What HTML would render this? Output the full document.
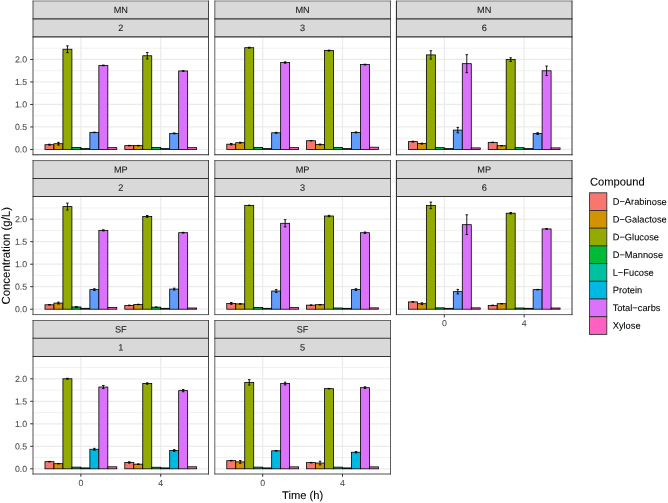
<!DOCTYPE html>
<html><head><meta charset="utf-8"><style>
html,body{margin:0;padding:0;background:#fff;}
body{width:668px;height:503px;overflow:hidden;}
svg{display:block;font-family:'Liberation Sans',sans-serif;}
text{-webkit-font-smoothing:antialiased;text-rendering:geometricPrecision;}
svg text{filter:opacity(1);stroke:currentColor;stroke-width:0.08px;}
</style></head><body>
<svg width="668" height="503" viewBox="0 0 668 503">
<rect width="668" height="503" fill="#fff"/>
<rect x="33" y="36.86" width="175.6" height="117.86" fill="#fff"/>
<line x1="33" x2="208.6" y1="138.2" y2="138.2" stroke="#EBEBEB" stroke-width="0.7"/>
<line x1="33" x2="208.6" y1="115.7" y2="115.7" stroke="#EBEBEB" stroke-width="0.7"/>
<line x1="33" x2="208.6" y1="93.2" y2="93.2" stroke="#EBEBEB" stroke-width="0.7"/>
<line x1="33" x2="208.6" y1="70.7" y2="70.7" stroke="#EBEBEB" stroke-width="0.7"/>
<line x1="33" x2="208.6" y1="48.2" y2="48.2" stroke="#EBEBEB" stroke-width="0.7"/>
<line x1="33" x2="208.6" y1="149.45" y2="149.45" stroke="#EBEBEB" stroke-width="1.2"/>
<line x1="33" x2="208.6" y1="126.95" y2="126.95" stroke="#EBEBEB" stroke-width="1.2"/>
<line x1="33" x2="208.6" y1="104.45" y2="104.45" stroke="#EBEBEB" stroke-width="1.2"/>
<line x1="33" x2="208.6" y1="81.95" y2="81.95" stroke="#EBEBEB" stroke-width="1.2"/>
<line x1="33" x2="208.6" y1="59.45" y2="59.45" stroke="#EBEBEB" stroke-width="1.2"/>
<line x1="80.89" x2="80.89" y1="36.86" y2="154.72" stroke="#EBEBEB" stroke-width="1.2"/>
<line x1="160.71" x2="160.71" y1="36.86" y2="154.72" stroke="#EBEBEB" stroke-width="1.2"/>
<rect x="44.97" y="144.68" width="8.98" height="4.77" fill="#F8766D" stroke="#000" stroke-width="0.8"/>
<rect x="53.95" y="143.69" width="8.98" height="5.76" fill="#D39200" stroke="#000" stroke-width="0.8"/>
<rect x="62.93" y="49.23" width="8.98" height="100.21" fill="#93AA00" stroke="#000" stroke-width="0.8"/>
<rect x="71.91" y="147.38" width="8.98" height="2.07" fill="#00BA38" stroke="#000" stroke-width="0.8"/>
<rect x="80.89" y="148.55" width="8.98" height="0.9" fill="#00C19F" stroke="#000" stroke-width="0.8"/>
<rect x="89.87" y="132.39" width="8.98" height="17.06" fill="#619CFF" stroke="#000" stroke-width="0.8"/>
<rect x="98.85" y="65.43" width="8.98" height="84.02" fill="#DB72FB" stroke="#000" stroke-width="0.8"/>
<rect x="107.83" y="147.65" width="8.98" height="1.8" fill="#FF61C3" stroke="#000" stroke-width="0.8"/>
<path d="M48.21 144.23H50.71M49.46 144.23V145.13M48.21 145.13H50.71" stroke="#000" stroke-width="0.9" fill="none"/>
<path d="M57.19 142.34H59.69M58.44 142.34V145.04M57.19 145.04H59.69" stroke="#000" stroke-width="0.9" fill="none"/>
<path d="M66.17 45.86H68.67M67.42 45.86V52.61M66.17 52.61H68.67" stroke="#000" stroke-width="0.9" fill="none"/>
<path d="M93.11 132.17H95.61M94.36 132.17V132.62M93.11 132.62H95.61" stroke="#000" stroke-width="0.9" fill="none"/>
<path d="M102.09 65.07H104.59M103.34 65.07V65.79M102.09 65.79H104.59" stroke="#000" stroke-width="0.9" fill="none"/>
<rect x="124.79" y="145.62" width="8.98" height="3.82" fill="#F8766D" stroke="#000" stroke-width="0.8"/>
<rect x="133.77" y="145.62" width="8.98" height="3.82" fill="#D39200" stroke="#000" stroke-width="0.8"/>
<rect x="142.75" y="55.76" width="8.98" height="93.69" fill="#93AA00" stroke="#000" stroke-width="0.8"/>
<rect x="151.73" y="147.38" width="8.98" height="2.07" fill="#00BA38" stroke="#000" stroke-width="0.8"/>
<rect x="160.71" y="148.55" width="8.98" height="0.9" fill="#00C19F" stroke="#000" stroke-width="0.8"/>
<rect x="169.69" y="133.38" width="8.98" height="16.06" fill="#619CFF" stroke="#000" stroke-width="0.8"/>
<rect x="178.67" y="70.97" width="8.98" height="78.48" fill="#DB72FB" stroke="#000" stroke-width="0.8"/>
<rect x="187.65" y="147.65" width="8.98" height="1.8" fill="#FF61C3" stroke="#000" stroke-width="0.8"/>
<path d="M128.03 145.4H130.53M129.28 145.4V145.85M128.03 145.85H130.53" stroke="#000" stroke-width="0.9" fill="none"/>
<path d="M137.01 145.4H139.51M138.26 145.4V145.85M137.01 145.85H139.51" stroke="#000" stroke-width="0.9" fill="none"/>
<path d="M145.99 52.52H148.49M147.24 52.52V59M145.99 59H148.49" stroke="#000" stroke-width="0.9" fill="none"/>
<path d="M172.93 132.94H175.43M174.18 132.94V133.83M172.93 133.83H175.43" stroke="#000" stroke-width="0.9" fill="none"/>
<path d="M181.91 70.74H184.41M183.16 70.74V71.19M181.91 71.19H184.41" stroke="#000" stroke-width="0.9" fill="none"/>
<rect x="33" y="0.97" width="175.6" height="17.85" fill="#D9D9D9"/>
<text transform="translate(120.8 13.09) rotate(0.05)" text-anchor="middle" font-size="9.2" fill="#1A1A1A" color="#1A1A1A">MN</text>
<rect x="33" y="18.82" width="175.6" height="18.04" fill="#D9D9D9"/>
<text transform="translate(120.8 31.04) rotate(0.05)" text-anchor="middle" font-size="9.2" fill="#1A1A1A" color="#1A1A1A">2</text>
<path d="M32.58 0.97H208.95" stroke="#333" stroke-width="0.6" fill="none"/>
<path d="M32.58 18.82H208.95" stroke="#333" stroke-width="1.19" fill="none"/>
<path d="M32.58 36.86H208.95" stroke="#333" stroke-width="1.21" fill="none"/>
<path d="M32.58 154.72H208.95" stroke="#333" stroke-width="1.06" fill="none"/>
<path d="M33 0.67V155.25" stroke="#333" stroke-width="0.84" fill="none"/>
<path d="M208.5 0.67V155.25" stroke="#333" stroke-width="0.9" fill="none"/>
<rect x="214.8" y="36.86" width="175.6" height="117.86" fill="#fff"/>
<line x1="214.8" x2="390.4" y1="138.2" y2="138.2" stroke="#EBEBEB" stroke-width="0.7"/>
<line x1="214.8" x2="390.4" y1="115.7" y2="115.7" stroke="#EBEBEB" stroke-width="0.7"/>
<line x1="214.8" x2="390.4" y1="93.2" y2="93.2" stroke="#EBEBEB" stroke-width="0.7"/>
<line x1="214.8" x2="390.4" y1="70.7" y2="70.7" stroke="#EBEBEB" stroke-width="0.7"/>
<line x1="214.8" x2="390.4" y1="48.2" y2="48.2" stroke="#EBEBEB" stroke-width="0.7"/>
<line x1="214.8" x2="390.4" y1="149.45" y2="149.45" stroke="#EBEBEB" stroke-width="1.2"/>
<line x1="214.8" x2="390.4" y1="126.95" y2="126.95" stroke="#EBEBEB" stroke-width="1.2"/>
<line x1="214.8" x2="390.4" y1="104.45" y2="104.45" stroke="#EBEBEB" stroke-width="1.2"/>
<line x1="214.8" x2="390.4" y1="81.95" y2="81.95" stroke="#EBEBEB" stroke-width="1.2"/>
<line x1="214.8" x2="390.4" y1="59.45" y2="59.45" stroke="#EBEBEB" stroke-width="1.2"/>
<line x1="262.69" x2="262.69" y1="36.86" y2="154.72" stroke="#EBEBEB" stroke-width="1.2"/>
<line x1="342.51" x2="342.51" y1="36.86" y2="154.72" stroke="#EBEBEB" stroke-width="1.2"/>
<rect x="226.77" y="144.19" width="8.98" height="5.26" fill="#F8766D" stroke="#000" stroke-width="0.8"/>
<rect x="235.75" y="142.7" width="8.98" height="6.75" fill="#D39200" stroke="#000" stroke-width="0.8"/>
<rect x="244.73" y="47.7" width="8.98" height="101.75" fill="#93AA00" stroke="#000" stroke-width="0.8"/>
<rect x="253.71" y="147.38" width="8.98" height="2.07" fill="#00BA38" stroke="#000" stroke-width="0.8"/>
<rect x="262.69" y="148.55" width="8.98" height="0.9" fill="#00C19F" stroke="#000" stroke-width="0.8"/>
<rect x="271.67" y="132.8" width="8.98" height="16.65" fill="#619CFF" stroke="#000" stroke-width="0.8"/>
<rect x="280.65" y="62.51" width="8.98" height="86.94" fill="#DB72FB" stroke="#000" stroke-width="0.8"/>
<rect x="289.63" y="147.65" width="8.98" height="1.8" fill="#FF61C3" stroke="#000" stroke-width="0.8"/>
<path d="M230.01 143.51H232.51M231.26 143.51V144.86M230.01 144.86H232.51" stroke="#000" stroke-width="0.9" fill="none"/>
<path d="M238.99 142.25H241.49M240.24 142.25V143.15M238.99 143.15H241.49" stroke="#000" stroke-width="0.9" fill="none"/>
<path d="M247.97 47.25H250.47M249.22 47.25V48.15M247.97 48.15H250.47" stroke="#000" stroke-width="0.9" fill="none"/>
<path d="M274.91 132.35H277.41M276.16 132.35V133.25M274.91 133.25H277.41" stroke="#000" stroke-width="0.9" fill="none"/>
<path d="M283.89 61.83H286.39M285.14 61.83V63.18M283.89 63.18H286.39" stroke="#000" stroke-width="0.9" fill="none"/>
<rect x="306.59" y="140.72" width="8.98" height="8.73" fill="#F8766D" stroke="#000" stroke-width="0.8"/>
<rect x="315.57" y="144.5" width="8.98" height="4.95" fill="#D39200" stroke="#000" stroke-width="0.8"/>
<rect x="324.55" y="50.58" width="8.98" height="98.87" fill="#93AA00" stroke="#000" stroke-width="0.8"/>
<rect x="333.53" y="147.38" width="8.98" height="2.07" fill="#00BA38" stroke="#000" stroke-width="0.8"/>
<rect x="342.51" y="148.55" width="8.98" height="0.9" fill="#00C19F" stroke="#000" stroke-width="0.8"/>
<rect x="351.49" y="132.39" width="8.98" height="17.06" fill="#619CFF" stroke="#000" stroke-width="0.8"/>
<rect x="360.47" y="64.58" width="8.98" height="84.87" fill="#DB72FB" stroke="#000" stroke-width="0.8"/>
<rect x="369.45" y="147.2" width="8.98" height="2.25" fill="#FF61C3" stroke="#000" stroke-width="0.8"/>
<path d="M309.83 140.49H312.33M311.08 140.49V140.94M309.83 140.94H312.33" stroke="#000" stroke-width="0.9" fill="none"/>
<path d="M318.81 144.05H321.31M320.06 144.05V144.95M318.81 144.95H321.31" stroke="#000" stroke-width="0.9" fill="none"/>
<path d="M327.79 50.13H330.29M329.04 50.13V51.03M327.79 51.03H330.29" stroke="#000" stroke-width="0.9" fill="none"/>
<path d="M354.73 131.94H357.23M355.98 131.94V132.84M354.73 132.84H357.23" stroke="#000" stroke-width="0.9" fill="none"/>
<path d="M363.71 64.22H366.21M364.96 64.22V64.94M363.71 64.94H366.21" stroke="#000" stroke-width="0.9" fill="none"/>
<rect x="214.8" y="0.97" width="175.6" height="17.85" fill="#D9D9D9"/>
<text transform="translate(302.6 13.09) rotate(0.05)" text-anchor="middle" font-size="9.2" fill="#1A1A1A" color="#1A1A1A">MN</text>
<rect x="214.8" y="18.82" width="175.6" height="18.04" fill="#D9D9D9"/>
<text transform="translate(302.6 31.04) rotate(0.05)" text-anchor="middle" font-size="9.2" fill="#1A1A1A" color="#1A1A1A">3</text>
<path d="M214.41 0.97H390.9" stroke="#333" stroke-width="0.6" fill="none"/>
<path d="M214.41 18.82H390.9" stroke="#333" stroke-width="1.19" fill="none"/>
<path d="M214.41 36.86H390.9" stroke="#333" stroke-width="1.21" fill="none"/>
<path d="M214.41 154.72H390.9" stroke="#333" stroke-width="1.06" fill="none"/>
<path d="M214.8 0.67V155.25" stroke="#333" stroke-width="0.78" fill="none"/>
<path d="M390.5 0.67V155.25" stroke="#333" stroke-width="0.8" fill="none"/>
<rect x="396.45" y="36.86" width="175.6" height="117.86" fill="#fff"/>
<line x1="396.45" x2="572.05" y1="138.2" y2="138.2" stroke="#EBEBEB" stroke-width="0.7"/>
<line x1="396.45" x2="572.05" y1="115.7" y2="115.7" stroke="#EBEBEB" stroke-width="0.7"/>
<line x1="396.45" x2="572.05" y1="93.2" y2="93.2" stroke="#EBEBEB" stroke-width="0.7"/>
<line x1="396.45" x2="572.05" y1="70.7" y2="70.7" stroke="#EBEBEB" stroke-width="0.7"/>
<line x1="396.45" x2="572.05" y1="48.2" y2="48.2" stroke="#EBEBEB" stroke-width="0.7"/>
<line x1="396.45" x2="572.05" y1="149.45" y2="149.45" stroke="#EBEBEB" stroke-width="1.2"/>
<line x1="396.45" x2="572.05" y1="126.95" y2="126.95" stroke="#EBEBEB" stroke-width="1.2"/>
<line x1="396.45" x2="572.05" y1="104.45" y2="104.45" stroke="#EBEBEB" stroke-width="1.2"/>
<line x1="396.45" x2="572.05" y1="81.95" y2="81.95" stroke="#EBEBEB" stroke-width="1.2"/>
<line x1="396.45" x2="572.05" y1="59.45" y2="59.45" stroke="#EBEBEB" stroke-width="1.2"/>
<line x1="444.34" x2="444.34" y1="36.86" y2="154.72" stroke="#EBEBEB" stroke-width="1.2"/>
<line x1="524.16" x2="524.16" y1="36.86" y2="154.72" stroke="#EBEBEB" stroke-width="1.2"/>
<rect x="408.42" y="141.62" width="8.98" height="7.83" fill="#F8766D" stroke="#000" stroke-width="0.8"/>
<rect x="417.4" y="143.6" width="8.98" height="5.85" fill="#D39200" stroke="#000" stroke-width="0.8"/>
<rect x="426.38" y="54.9" width="8.98" height="94.55" fill="#93AA00" stroke="#000" stroke-width="0.8"/>
<rect x="435.36" y="147.65" width="8.98" height="1.8" fill="#00BA38" stroke="#000" stroke-width="0.8"/>
<rect x="444.34" y="148.55" width="8.98" height="0.9" fill="#00C19F" stroke="#000" stroke-width="0.8"/>
<rect x="453.32" y="130.1" width="8.98" height="19.35" fill="#619CFF" stroke="#000" stroke-width="0.8"/>
<rect x="462.3" y="63.68" width="8.98" height="85.77" fill="#DB72FB" stroke="#000" stroke-width="0.8"/>
<rect x="471.28" y="147.88" width="8.98" height="1.57" fill="#FF61C3" stroke="#000" stroke-width="0.8"/>
<path d="M411.66 141.17H414.16M412.91 141.17V142.07M411.66 142.07H414.16" stroke="#000" stroke-width="0.9" fill="none"/>
<path d="M420.64 143.15H423.14M421.89 143.15V144.05M420.64 144.05H423.14" stroke="#000" stroke-width="0.9" fill="none"/>
<path d="M429.62 50.72H432.12M430.87 50.72V59.09M429.62 59.09H432.12" stroke="#000" stroke-width="0.9" fill="none"/>
<path d="M456.56 127.4H459.06M457.81 127.4V132.8M456.56 132.8H459.06" stroke="#000" stroke-width="0.9" fill="none"/>
<path d="M465.54 54.68H468.04M466.79 54.68V72.68M465.54 72.68H468.04" stroke="#000" stroke-width="0.9" fill="none"/>
<rect x="488.24" y="142.38" width="8.98" height="7.06" fill="#F8766D" stroke="#000" stroke-width="0.8"/>
<rect x="497.22" y="145.71" width="8.98" height="3.74" fill="#D39200" stroke="#000" stroke-width="0.8"/>
<rect x="506.2" y="59.58" width="8.98" height="89.87" fill="#93AA00" stroke="#000" stroke-width="0.8"/>
<rect x="515.18" y="147.65" width="8.98" height="1.8" fill="#00BA38" stroke="#000" stroke-width="0.8"/>
<rect x="524.16" y="148.55" width="8.98" height="0.9" fill="#00C19F" stroke="#000" stroke-width="0.8"/>
<rect x="533.14" y="133.61" width="8.98" height="15.84" fill="#619CFF" stroke="#000" stroke-width="0.8"/>
<rect x="542.12" y="70.79" width="8.98" height="78.66" fill="#DB72FB" stroke="#000" stroke-width="0.8"/>
<rect x="551.1" y="147.88" width="8.98" height="1.57" fill="#FF61C3" stroke="#000" stroke-width="0.8"/>
<path d="M491.48 142.16H493.98M492.73 142.16V142.61M491.48 142.61H493.98" stroke="#000" stroke-width="0.9" fill="none"/>
<path d="M500.46 145.49H502.96M501.71 145.49V145.94M500.46 145.94H502.96" stroke="#000" stroke-width="0.9" fill="none"/>
<path d="M509.44 57.78H511.94M510.69 57.78V61.38M509.44 61.38H511.94" stroke="#000" stroke-width="0.9" fill="none"/>
<path d="M536.38 132.71H538.88M537.63 132.71V134.51M536.38 134.51H538.88" stroke="#000" stroke-width="0.9" fill="none"/>
<path d="M545.36 66.02H547.86M546.61 66.02V75.56M545.36 75.56H547.86" stroke="#000" stroke-width="0.9" fill="none"/>
<rect x="396.45" y="0.97" width="175.6" height="17.85" fill="#D9D9D9"/>
<text transform="translate(484.25 13.09) rotate(0.05)" text-anchor="middle" font-size="9.2" fill="#1A1A1A" color="#1A1A1A">MN</text>
<rect x="396.45" y="18.82" width="175.6" height="18.04" fill="#D9D9D9"/>
<text transform="translate(484.25 31.04) rotate(0.05)" text-anchor="middle" font-size="9.2" fill="#1A1A1A" color="#1A1A1A">6</text>
<path d="M395.9 0.97H572.5" stroke="#333" stroke-width="0.6" fill="none"/>
<path d="M395.9 18.82H572.5" stroke="#333" stroke-width="1.19" fill="none"/>
<path d="M395.9 36.86H572.5" stroke="#333" stroke-width="1.21" fill="none"/>
<path d="M395.9 154.72H572.5" stroke="#333" stroke-width="1.06" fill="none"/>
<path d="M396.45 0.67V155.25" stroke="#333" stroke-width="1.1" fill="none"/>
<path d="M572 0.67V155.25" stroke="#333" stroke-width="1.0" fill="none"/>
<rect x="33" y="196.6" width="175.6" height="118" fill="#fff"/>
<line x1="33" x2="208.6" y1="297.95" y2="297.95" stroke="#EBEBEB" stroke-width="0.7"/>
<line x1="33" x2="208.6" y1="275.45" y2="275.45" stroke="#EBEBEB" stroke-width="0.7"/>
<line x1="33" x2="208.6" y1="252.95" y2="252.95" stroke="#EBEBEB" stroke-width="0.7"/>
<line x1="33" x2="208.6" y1="230.45" y2="230.45" stroke="#EBEBEB" stroke-width="0.7"/>
<line x1="33" x2="208.6" y1="207.95" y2="207.95" stroke="#EBEBEB" stroke-width="0.7"/>
<line x1="33" x2="208.6" y1="309.2" y2="309.2" stroke="#EBEBEB" stroke-width="1.2"/>
<line x1="33" x2="208.6" y1="286.7" y2="286.7" stroke="#EBEBEB" stroke-width="1.2"/>
<line x1="33" x2="208.6" y1="264.2" y2="264.2" stroke="#EBEBEB" stroke-width="1.2"/>
<line x1="33" x2="208.6" y1="241.7" y2="241.7" stroke="#EBEBEB" stroke-width="1.2"/>
<line x1="33" x2="208.6" y1="219.2" y2="219.2" stroke="#EBEBEB" stroke-width="1.2"/>
<line x1="80.89" x2="80.89" y1="196.6" y2="314.6" stroke="#EBEBEB" stroke-width="1.2"/>
<line x1="160.71" x2="160.71" y1="196.6" y2="314.6" stroke="#EBEBEB" stroke-width="1.2"/>
<rect x="44.97" y="304.79" width="8.98" height="4.41" fill="#F8766D" stroke="#000" stroke-width="0.8"/>
<rect x="53.95" y="303.08" width="8.98" height="6.12" fill="#D39200" stroke="#000" stroke-width="0.8"/>
<rect x="62.93" y="206.6" width="8.98" height="102.6" fill="#93AA00" stroke="#000" stroke-width="0.8"/>
<rect x="71.91" y="306.95" width="8.98" height="2.25" fill="#00BA38" stroke="#000" stroke-width="0.8"/>
<rect x="80.89" y="308.3" width="8.98" height="0.9" fill="#00C19F" stroke="#000" stroke-width="0.8"/>
<rect x="89.87" y="289.62" width="8.98" height="19.57" fill="#619CFF" stroke="#000" stroke-width="0.8"/>
<rect x="98.85" y="230.36" width="8.98" height="78.84" fill="#DB72FB" stroke="#000" stroke-width="0.8"/>
<rect x="107.83" y="307.4" width="8.98" height="1.8" fill="#FF61C3" stroke="#000" stroke-width="0.8"/>
<path d="M48.21 304.56H50.71M49.46 304.56V305.01M48.21 305.01H50.71" stroke="#000" stroke-width="0.9" fill="none"/>
<path d="M57.19 302.18H59.69M58.44 302.18V303.98M57.19 303.98H59.69" stroke="#000" stroke-width="0.9" fill="none"/>
<path d="M66.17 203.13H68.67M67.42 203.13V210.06M66.17 210.06H68.67" stroke="#000" stroke-width="0.9" fill="none"/>
<path d="M75.15 306.5H77.65M76.4 306.5V307.4M75.15 307.4H77.65" stroke="#000" stroke-width="0.9" fill="none"/>
<path d="M93.11 288.72H95.61M94.36 288.72V290.52M93.11 290.52H95.61" stroke="#000" stroke-width="0.9" fill="none"/>
<path d="M102.09 229.82H104.59M103.34 229.82V230.9M102.09 230.9H104.59" stroke="#000" stroke-width="0.9" fill="none"/>
<rect x="124.79" y="305.38" width="8.98" height="3.82" fill="#F8766D" stroke="#000" stroke-width="0.8"/>
<rect x="133.77" y="304.47" width="8.98" height="4.73" fill="#D39200" stroke="#000" stroke-width="0.8"/>
<rect x="142.75" y="216.41" width="8.98" height="92.79" fill="#93AA00" stroke="#000" stroke-width="0.8"/>
<rect x="151.73" y="307.18" width="8.98" height="2.02" fill="#00BA38" stroke="#000" stroke-width="0.8"/>
<rect x="160.71" y="308.3" width="8.98" height="0.9" fill="#00C19F" stroke="#000" stroke-width="0.8"/>
<rect x="169.69" y="289.08" width="8.98" height="20.12" fill="#619CFF" stroke="#000" stroke-width="0.8"/>
<rect x="178.67" y="232.7" width="8.98" height="76.5" fill="#DB72FB" stroke="#000" stroke-width="0.8"/>
<rect x="187.65" y="307.99" width="8.98" height="1.21" fill="#FF61C3" stroke="#000" stroke-width="0.8"/>
<path d="M128.03 305.15H130.53M129.28 305.15V305.6M128.03 305.6H130.53" stroke="#000" stroke-width="0.9" fill="none"/>
<path d="M137.01 304.25H139.51M138.26 304.25V304.7M137.01 304.7H139.51" stroke="#000" stroke-width="0.9" fill="none"/>
<path d="M145.99 215.51H148.49M147.24 215.51V217.31M145.99 217.31H148.49" stroke="#000" stroke-width="0.9" fill="none"/>
<path d="M154.97 306.95H157.47M156.22 306.95V307.4M154.97 307.4H157.47" stroke="#000" stroke-width="0.9" fill="none"/>
<path d="M172.93 288.19H175.43M174.18 288.19V289.99M172.93 289.99H175.43" stroke="#000" stroke-width="0.9" fill="none"/>
<path d="M181.91 232.34H184.41M183.16 232.34V233.06M181.91 233.06H184.41" stroke="#000" stroke-width="0.9" fill="none"/>
<rect x="33" y="160.57" width="175.6" height="17.93" fill="#D9D9D9"/>
<text transform="translate(120.8 172.73) rotate(0.05)" text-anchor="middle" font-size="9.2" fill="#1A1A1A" color="#1A1A1A">MP</text>
<rect x="33" y="178.5" width="175.6" height="18.1" fill="#D9D9D9"/>
<text transform="translate(120.8 190.75) rotate(0.05)" text-anchor="middle" font-size="9.2" fill="#1A1A1A" color="#1A1A1A">2</text>
<path d="M32.58 160.57H208.95" stroke="#333" stroke-width="0.72" fill="none"/>
<path d="M32.58 178.5H208.95" stroke="#333" stroke-width="1.0" fill="none"/>
<path d="M32.58 196.6H208.95" stroke="#333" stroke-width="1.02" fill="none"/>
<path d="M32.58 314.6H208.95" stroke="#333" stroke-width="0.77" fill="none"/>
<path d="M33 160.21V314.99" stroke="#333" stroke-width="0.84" fill="none"/>
<path d="M208.5 160.21V314.99" stroke="#333" stroke-width="0.9" fill="none"/>
<rect x="214.8" y="196.6" width="175.6" height="118" fill="#fff"/>
<line x1="214.8" x2="390.4" y1="297.95" y2="297.95" stroke="#EBEBEB" stroke-width="0.7"/>
<line x1="214.8" x2="390.4" y1="275.45" y2="275.45" stroke="#EBEBEB" stroke-width="0.7"/>
<line x1="214.8" x2="390.4" y1="252.95" y2="252.95" stroke="#EBEBEB" stroke-width="0.7"/>
<line x1="214.8" x2="390.4" y1="230.45" y2="230.45" stroke="#EBEBEB" stroke-width="0.7"/>
<line x1="214.8" x2="390.4" y1="207.95" y2="207.95" stroke="#EBEBEB" stroke-width="0.7"/>
<line x1="214.8" x2="390.4" y1="309.2" y2="309.2" stroke="#EBEBEB" stroke-width="1.2"/>
<line x1="214.8" x2="390.4" y1="286.7" y2="286.7" stroke="#EBEBEB" stroke-width="1.2"/>
<line x1="214.8" x2="390.4" y1="264.2" y2="264.2" stroke="#EBEBEB" stroke-width="1.2"/>
<line x1="214.8" x2="390.4" y1="241.7" y2="241.7" stroke="#EBEBEB" stroke-width="1.2"/>
<line x1="214.8" x2="390.4" y1="219.2" y2="219.2" stroke="#EBEBEB" stroke-width="1.2"/>
<line x1="262.69" x2="262.69" y1="196.6" y2="314.6" stroke="#EBEBEB" stroke-width="1.2"/>
<line x1="342.51" x2="342.51" y1="196.6" y2="314.6" stroke="#EBEBEB" stroke-width="1.2"/>
<rect x="226.77" y="303.39" width="8.98" height="5.81" fill="#F8766D" stroke="#000" stroke-width="0.8"/>
<rect x="235.75" y="303.89" width="8.98" height="5.31" fill="#D39200" stroke="#000" stroke-width="0.8"/>
<rect x="244.73" y="205.38" width="8.98" height="103.81" fill="#93AA00" stroke="#000" stroke-width="0.8"/>
<rect x="253.71" y="307.4" width="8.98" height="1.8" fill="#00BA38" stroke="#000" stroke-width="0.8"/>
<rect x="262.69" y="308.3" width="8.98" height="0.9" fill="#00C19F" stroke="#000" stroke-width="0.8"/>
<rect x="271.67" y="291.02" width="8.98" height="18.18" fill="#619CFF" stroke="#000" stroke-width="0.8"/>
<rect x="280.65" y="223.29" width="8.98" height="85.91" fill="#DB72FB" stroke="#000" stroke-width="0.8"/>
<rect x="289.63" y="307.62" width="8.98" height="1.57" fill="#FF61C3" stroke="#000" stroke-width="0.8"/>
<path d="M230.01 302.5H232.51M231.26 302.5V304.3M230.01 304.3H232.51" stroke="#000" stroke-width="0.9" fill="none"/>
<path d="M238.99 303.66H241.49M240.24 303.66V304.12M238.99 304.12H241.49" stroke="#000" stroke-width="0.9" fill="none"/>
<path d="M247.97 205.16H250.47M249.22 205.16V205.61M247.97 205.61H250.47" stroke="#000" stroke-width="0.9" fill="none"/>
<path d="M274.91 289.67H277.41M276.16 289.67V292.37M274.91 292.37H277.41" stroke="#000" stroke-width="0.9" fill="none"/>
<path d="M283.89 219.69H286.39M285.14 219.69V226.89M283.89 226.89H286.39" stroke="#000" stroke-width="0.9" fill="none"/>
<rect x="306.59" y="305.15" width="8.98" height="4.05" fill="#F8766D" stroke="#000" stroke-width="0.8"/>
<rect x="315.57" y="304.7" width="8.98" height="4.5" fill="#D39200" stroke="#000" stroke-width="0.8"/>
<rect x="324.55" y="216" width="8.98" height="93.19" fill="#93AA00" stroke="#000" stroke-width="0.8"/>
<rect x="333.53" y="307.99" width="8.98" height="1.21" fill="#00BA38" stroke="#000" stroke-width="0.8"/>
<rect x="342.51" y="308.3" width="8.98" height="0.9" fill="#00C19F" stroke="#000" stroke-width="0.8"/>
<rect x="351.49" y="289.62" width="8.98" height="19.57" fill="#619CFF" stroke="#000" stroke-width="0.8"/>
<rect x="360.47" y="232.7" width="8.98" height="76.5" fill="#DB72FB" stroke="#000" stroke-width="0.8"/>
<rect x="369.45" y="307.85" width="8.98" height="1.35" fill="#FF61C3" stroke="#000" stroke-width="0.8"/>
<path d="M309.83 304.93H312.33M311.08 304.93V305.38M309.83 305.38H312.33" stroke="#000" stroke-width="0.9" fill="none"/>
<path d="M318.81 304.47H321.31M320.06 304.47V304.93M318.81 304.93H321.31" stroke="#000" stroke-width="0.9" fill="none"/>
<path d="M327.79 215.33H330.29M329.04 215.33V216.68M327.79 216.68H330.29" stroke="#000" stroke-width="0.9" fill="none"/>
<path d="M354.73 288.72H357.23M355.98 288.72V290.52M354.73 290.52H357.23" stroke="#000" stroke-width="0.9" fill="none"/>
<path d="M363.71 232.02H366.21M364.96 232.02V233.38M363.71 233.38H366.21" stroke="#000" stroke-width="0.9" fill="none"/>
<rect x="214.8" y="160.57" width="175.6" height="17.93" fill="#D9D9D9"/>
<text transform="translate(302.6 172.73) rotate(0.05)" text-anchor="middle" font-size="9.2" fill="#1A1A1A" color="#1A1A1A">MP</text>
<rect x="214.8" y="178.5" width="175.6" height="18.1" fill="#D9D9D9"/>
<text transform="translate(302.6 190.75) rotate(0.05)" text-anchor="middle" font-size="9.2" fill="#1A1A1A" color="#1A1A1A">3</text>
<path d="M214.41 160.57H390.9" stroke="#333" stroke-width="0.72" fill="none"/>
<path d="M214.41 178.5H390.9" stroke="#333" stroke-width="1.0" fill="none"/>
<path d="M214.41 196.6H390.9" stroke="#333" stroke-width="1.02" fill="none"/>
<path d="M214.41 314.6H390.9" stroke="#333" stroke-width="0.77" fill="none"/>
<path d="M214.8 160.21V314.99" stroke="#333" stroke-width="0.78" fill="none"/>
<path d="M390.5 160.21V314.99" stroke="#333" stroke-width="0.8" fill="none"/>
<rect x="396.45" y="196.6" width="175.6" height="118" fill="#fff"/>
<line x1="396.45" x2="572.05" y1="297.95" y2="297.95" stroke="#EBEBEB" stroke-width="0.7"/>
<line x1="396.45" x2="572.05" y1="275.45" y2="275.45" stroke="#EBEBEB" stroke-width="0.7"/>
<line x1="396.45" x2="572.05" y1="252.95" y2="252.95" stroke="#EBEBEB" stroke-width="0.7"/>
<line x1="396.45" x2="572.05" y1="230.45" y2="230.45" stroke="#EBEBEB" stroke-width="0.7"/>
<line x1="396.45" x2="572.05" y1="207.95" y2="207.95" stroke="#EBEBEB" stroke-width="0.7"/>
<line x1="396.45" x2="572.05" y1="309.2" y2="309.2" stroke="#EBEBEB" stroke-width="1.2"/>
<line x1="396.45" x2="572.05" y1="286.7" y2="286.7" stroke="#EBEBEB" stroke-width="1.2"/>
<line x1="396.45" x2="572.05" y1="264.2" y2="264.2" stroke="#EBEBEB" stroke-width="1.2"/>
<line x1="396.45" x2="572.05" y1="241.7" y2="241.7" stroke="#EBEBEB" stroke-width="1.2"/>
<line x1="396.45" x2="572.05" y1="219.2" y2="219.2" stroke="#EBEBEB" stroke-width="1.2"/>
<line x1="444.34" x2="444.34" y1="196.6" y2="314.6" stroke="#EBEBEB" stroke-width="1.2"/>
<line x1="524.16" x2="524.16" y1="196.6" y2="314.6" stroke="#EBEBEB" stroke-width="1.2"/>
<rect x="408.42" y="301.91" width="8.98" height="7.29" fill="#F8766D" stroke="#000" stroke-width="0.8"/>
<rect x="417.4" y="303.71" width="8.98" height="5.49" fill="#D39200" stroke="#000" stroke-width="0.8"/>
<rect x="426.38" y="205.38" width="8.98" height="103.81" fill="#93AA00" stroke="#000" stroke-width="0.8"/>
<rect x="435.36" y="307.85" width="8.98" height="1.35" fill="#00BA38" stroke="#000" stroke-width="0.8"/>
<rect x="444.34" y="308.3" width="8.98" height="0.9" fill="#00C19F" stroke="#000" stroke-width="0.8"/>
<rect x="453.32" y="291.65" width="8.98" height="17.55" fill="#619CFF" stroke="#000" stroke-width="0.8"/>
<rect x="462.3" y="224.69" width="8.98" height="84.51" fill="#DB72FB" stroke="#000" stroke-width="0.8"/>
<rect x="471.28" y="307.85" width="8.98" height="1.35" fill="#FF61C3" stroke="#000" stroke-width="0.8"/>
<path d="M411.66 301.69H414.16M412.91 301.69V302.13M411.66 302.13H414.16" stroke="#000" stroke-width="0.9" fill="none"/>
<path d="M420.64 302.81H423.14M421.89 302.81V304.61M420.64 304.61H423.14" stroke="#000" stroke-width="0.9" fill="none"/>
<path d="M429.62 202.1H432.12M430.87 202.1V208.67M429.62 208.67H432.12" stroke="#000" stroke-width="0.9" fill="none"/>
<path d="M456.56 289.4H459.06M457.81 289.4V293.9M456.56 293.9H459.06" stroke="#000" stroke-width="0.9" fill="none"/>
<path d="M465.54 214.79H468.04M466.79 214.79V234.59M465.54 234.59H468.04" stroke="#000" stroke-width="0.9" fill="none"/>
<rect x="488.24" y="305.38" width="8.98" height="3.82" fill="#F8766D" stroke="#000" stroke-width="0.8"/>
<rect x="497.22" y="303.71" width="8.98" height="5.49" fill="#D39200" stroke="#000" stroke-width="0.8"/>
<rect x="506.2" y="213.21" width="8.98" height="95.99" fill="#93AA00" stroke="#000" stroke-width="0.8"/>
<rect x="515.18" y="307.99" width="8.98" height="1.21" fill="#00BA38" stroke="#000" stroke-width="0.8"/>
<rect x="524.16" y="308.3" width="8.98" height="0.9" fill="#00C19F" stroke="#000" stroke-width="0.8"/>
<rect x="533.14" y="289.62" width="8.98" height="19.57" fill="#619CFF" stroke="#000" stroke-width="0.8"/>
<rect x="542.12" y="228.92" width="8.98" height="80.28" fill="#DB72FB" stroke="#000" stroke-width="0.8"/>
<rect x="551.1" y="307.99" width="8.98" height="1.21" fill="#FF61C3" stroke="#000" stroke-width="0.8"/>
<path d="M491.48 305.15H493.98M492.73 305.15V305.6M491.48 305.6H493.98" stroke="#000" stroke-width="0.9" fill="none"/>
<path d="M500.46 303.49H502.96M501.71 303.49V303.94M500.46 303.94H502.96" stroke="#000" stroke-width="0.9" fill="none"/>
<path d="M509.44 212.54H511.94M510.69 212.54V213.89M509.44 213.89H511.94" stroke="#000" stroke-width="0.9" fill="none"/>
<path d="M536.38 289.4H538.88M537.63 289.4V289.85M536.38 289.85H538.88" stroke="#000" stroke-width="0.9" fill="none"/>
<path d="M545.36 228.56H547.86M546.61 228.56V229.28M545.36 229.28H547.86" stroke="#000" stroke-width="0.9" fill="none"/>
<rect x="396.45" y="160.57" width="175.6" height="17.93" fill="#D9D9D9"/>
<text transform="translate(484.25 172.73) rotate(0.05)" text-anchor="middle" font-size="9.2" fill="#1A1A1A" color="#1A1A1A">MP</text>
<rect x="396.45" y="178.5" width="175.6" height="18.1" fill="#D9D9D9"/>
<text transform="translate(484.25 190.75) rotate(0.05)" text-anchor="middle" font-size="9.2" fill="#1A1A1A" color="#1A1A1A">6</text>
<path d="M395.9 160.57H572.5" stroke="#333" stroke-width="0.72" fill="none"/>
<path d="M395.9 178.5H572.5" stroke="#333" stroke-width="1.0" fill="none"/>
<path d="M395.9 196.6H572.5" stroke="#333" stroke-width="1.02" fill="none"/>
<path d="M395.9 314.6H572.5" stroke="#333" stroke-width="0.77" fill="none"/>
<path d="M396.45 160.21V314.99" stroke="#333" stroke-width="1.1" fill="none"/>
<path d="M572 160.21V314.99" stroke="#333" stroke-width="1.0" fill="none"/>
<rect x="33" y="356.42" width="175.6" height="117.58" fill="#fff"/>
<line x1="33" x2="208.6" y1="457.55" y2="457.55" stroke="#EBEBEB" stroke-width="0.7"/>
<line x1="33" x2="208.6" y1="435.05" y2="435.05" stroke="#EBEBEB" stroke-width="0.7"/>
<line x1="33" x2="208.6" y1="412.55" y2="412.55" stroke="#EBEBEB" stroke-width="0.7"/>
<line x1="33" x2="208.6" y1="390.05" y2="390.05" stroke="#EBEBEB" stroke-width="0.7"/>
<line x1="33" x2="208.6" y1="367.55" y2="367.55" stroke="#EBEBEB" stroke-width="0.7"/>
<line x1="33" x2="208.6" y1="468.8" y2="468.8" stroke="#EBEBEB" stroke-width="1.2"/>
<line x1="33" x2="208.6" y1="446.3" y2="446.3" stroke="#EBEBEB" stroke-width="1.2"/>
<line x1="33" x2="208.6" y1="423.8" y2="423.8" stroke="#EBEBEB" stroke-width="1.2"/>
<line x1="33" x2="208.6" y1="401.3" y2="401.3" stroke="#EBEBEB" stroke-width="1.2"/>
<line x1="33" x2="208.6" y1="378.8" y2="378.8" stroke="#EBEBEB" stroke-width="1.2"/>
<line x1="80.89" x2="80.89" y1="356.42" y2="474" stroke="#EBEBEB" stroke-width="1.2"/>
<line x1="160.71" x2="160.71" y1="356.42" y2="474" stroke="#EBEBEB" stroke-width="1.2"/>
<rect x="44.97" y="461.65" width="8.98" height="7.15" fill="#F8766D" stroke="#000" stroke-width="0.8"/>
<rect x="53.95" y="463.67" width="8.98" height="5.13" fill="#D39200" stroke="#000" stroke-width="0.8"/>
<rect x="62.93" y="378.75" width="8.98" height="90.05" fill="#93AA00" stroke="#000" stroke-width="0.8"/>
<rect x="71.91" y="467.13" width="8.98" height="1.67" fill="#00BA38" stroke="#000" stroke-width="0.8"/>
<rect x="80.89" y="467.9" width="8.98" height="0.9" fill="#00C19F" stroke="#000" stroke-width="0.8"/>
<rect x="89.87" y="449.27" width="8.98" height="19.53" fill="#00B9E3" stroke="#000" stroke-width="0.8"/>
<rect x="98.85" y="387.04" width="8.98" height="81.76" fill="#DB72FB" stroke="#000" stroke-width="0.8"/>
<rect x="107.83" y="466.78" width="8.98" height="2.02" fill="#FF61C3" stroke="#000" stroke-width="0.8"/>
<path d="M48.21 461.42H50.71M49.46 461.42V461.87M48.21 461.87H50.71" stroke="#000" stroke-width="0.9" fill="none"/>
<path d="M57.19 463.44H59.69M58.44 463.44V463.9M57.19 463.9H59.69" stroke="#000" stroke-width="0.9" fill="none"/>
<path d="M66.17 378.31H68.67M67.42 378.31V379.21M66.17 379.21H68.67" stroke="#000" stroke-width="0.9" fill="none"/>
<path d="M93.11 448.37H95.61M94.36 448.37V450.17M93.11 450.17H95.61" stroke="#000" stroke-width="0.9" fill="none"/>
<path d="M102.09 385.46H104.59M103.34 385.46V388.61M102.09 388.61H104.59" stroke="#000" stroke-width="0.9" fill="none"/>
<rect x="124.79" y="462.45" width="8.98" height="6.35" fill="#F8766D" stroke="#000" stroke-width="0.8"/>
<rect x="133.77" y="464.17" width="8.98" height="4.63" fill="#D39200" stroke="#000" stroke-width="0.8"/>
<rect x="142.75" y="383.52" width="8.98" height="85.28" fill="#93AA00" stroke="#000" stroke-width="0.8"/>
<rect x="151.73" y="467.23" width="8.98" height="1.57" fill="#00BA38" stroke="#000" stroke-width="0.8"/>
<rect x="160.71" y="467.9" width="8.98" height="0.9" fill="#00C19F" stroke="#000" stroke-width="0.8"/>
<rect x="169.69" y="450.53" width="8.98" height="18.27" fill="#00B9E3" stroke="#000" stroke-width="0.8"/>
<rect x="178.67" y="390.63" width="8.98" height="78.17" fill="#DB72FB" stroke="#000" stroke-width="0.8"/>
<rect x="187.65" y="466.78" width="8.98" height="2.02" fill="#FF61C3" stroke="#000" stroke-width="0.8"/>
<path d="M128.03 461.78H130.53M129.28 461.78V463.13M128.03 463.13H130.53" stroke="#000" stroke-width="0.9" fill="none"/>
<path d="M137.01 463.94H139.51M138.26 463.94V464.39M137.01 464.39H139.51" stroke="#000" stroke-width="0.9" fill="none"/>
<path d="M145.99 382.85H148.49M147.24 382.85V384.2M145.99 384.2H148.49" stroke="#000" stroke-width="0.9" fill="none"/>
<path d="M172.93 449.63H175.43M174.18 449.63V451.43M172.93 451.43H175.43" stroke="#000" stroke-width="0.9" fill="none"/>
<path d="M181.91 389.51H184.41M183.16 389.51V391.76M181.91 391.76H184.41" stroke="#000" stroke-width="0.9" fill="none"/>
<rect x="33" y="320.5" width="175.6" height="17.77" fill="#D9D9D9"/>
<text transform="translate(120.8 332.58) rotate(0.05)" text-anchor="middle" font-size="9.2" fill="#1A1A1A" color="#1A1A1A">SF</text>
<rect x="33" y="338.27" width="175.6" height="18.15" fill="#D9D9D9"/>
<text transform="translate(120.8 350.55) rotate(0.05)" text-anchor="middle" font-size="9.2" fill="#1A1A1A" color="#1A1A1A">1</text>
<path d="M32.58 320.5H208.95" stroke="#333" stroke-width="0.72" fill="none"/>
<path d="M32.58 338.27H208.95" stroke="#333" stroke-width="1.11" fill="none"/>
<path d="M32.58 356.42H208.95" stroke="#333" stroke-width="1.06" fill="none"/>
<path d="M32.58 474H208.95" stroke="#333" stroke-width="0.86" fill="none"/>
<path d="M33 320.14V474.43" stroke="#333" stroke-width="0.84" fill="none"/>
<path d="M208.5 320.14V474.43" stroke="#333" stroke-width="0.9" fill="none"/>
<rect x="214.8" y="356.42" width="175.6" height="117.58" fill="#fff"/>
<line x1="214.8" x2="390.4" y1="457.55" y2="457.55" stroke="#EBEBEB" stroke-width="0.7"/>
<line x1="214.8" x2="390.4" y1="435.05" y2="435.05" stroke="#EBEBEB" stroke-width="0.7"/>
<line x1="214.8" x2="390.4" y1="412.55" y2="412.55" stroke="#EBEBEB" stroke-width="0.7"/>
<line x1="214.8" x2="390.4" y1="390.05" y2="390.05" stroke="#EBEBEB" stroke-width="0.7"/>
<line x1="214.8" x2="390.4" y1="367.55" y2="367.55" stroke="#EBEBEB" stroke-width="0.7"/>
<line x1="214.8" x2="390.4" y1="468.8" y2="468.8" stroke="#EBEBEB" stroke-width="1.2"/>
<line x1="214.8" x2="390.4" y1="446.3" y2="446.3" stroke="#EBEBEB" stroke-width="1.2"/>
<line x1="214.8" x2="390.4" y1="423.8" y2="423.8" stroke="#EBEBEB" stroke-width="1.2"/>
<line x1="214.8" x2="390.4" y1="401.3" y2="401.3" stroke="#EBEBEB" stroke-width="1.2"/>
<line x1="214.8" x2="390.4" y1="378.8" y2="378.8" stroke="#EBEBEB" stroke-width="1.2"/>
<line x1="262.69" x2="262.69" y1="356.42" y2="474" stroke="#EBEBEB" stroke-width="1.2"/>
<line x1="342.51" x2="342.51" y1="356.42" y2="474" stroke="#EBEBEB" stroke-width="1.2"/>
<rect x="226.77" y="460.66" width="8.98" height="8.14" fill="#F8766D" stroke="#000" stroke-width="0.8"/>
<rect x="235.75" y="461.87" width="8.98" height="6.93" fill="#D39200" stroke="#000" stroke-width="0.8"/>
<rect x="244.73" y="382.36" width="8.98" height="86.44" fill="#93AA00" stroke="#000" stroke-width="0.8"/>
<rect x="253.71" y="467.13" width="8.98" height="1.67" fill="#00BA38" stroke="#000" stroke-width="0.8"/>
<rect x="262.69" y="467.9" width="8.98" height="0.9" fill="#00C19F" stroke="#000" stroke-width="0.8"/>
<rect x="271.67" y="450.8" width="8.98" height="18" fill="#00B9E3" stroke="#000" stroke-width="0.8"/>
<rect x="280.65" y="383.52" width="8.98" height="85.28" fill="#DB72FB" stroke="#000" stroke-width="0.8"/>
<rect x="289.63" y="466.87" width="8.98" height="1.94" fill="#FF61C3" stroke="#000" stroke-width="0.8"/>
<path d="M230.01 460.43H232.51M231.26 460.43V460.88M230.01 460.88H232.51" stroke="#000" stroke-width="0.9" fill="none"/>
<path d="M238.99 460.52H241.49M240.24 460.52V463.22M238.99 463.22H241.49" stroke="#000" stroke-width="0.9" fill="none"/>
<path d="M247.97 379.65H250.47M249.22 379.65V385.06M247.97 385.06H250.47" stroke="#000" stroke-width="0.9" fill="none"/>
<path d="M274.91 450.57H277.41M276.16 450.57V451.03M274.91 451.03H277.41" stroke="#000" stroke-width="0.9" fill="none"/>
<path d="M283.89 382.18H286.39M285.14 382.18V384.88M283.89 384.88H286.39" stroke="#000" stroke-width="0.9" fill="none"/>
<rect x="306.59" y="462.63" width="8.98" height="6.17" fill="#F8766D" stroke="#000" stroke-width="0.8"/>
<rect x="315.57" y="463.04" width="8.98" height="5.76" fill="#D39200" stroke="#000" stroke-width="0.8"/>
<rect x="324.55" y="388.66" width="8.98" height="80.14" fill="#93AA00" stroke="#000" stroke-width="0.8"/>
<rect x="333.53" y="467.13" width="8.98" height="1.67" fill="#00BA38" stroke="#000" stroke-width="0.8"/>
<rect x="342.51" y="467.9" width="8.98" height="0.9" fill="#00C19F" stroke="#000" stroke-width="0.8"/>
<rect x="351.49" y="452.24" width="8.98" height="16.56" fill="#00B9E3" stroke="#000" stroke-width="0.8"/>
<rect x="360.47" y="387.67" width="8.98" height="81.13" fill="#DB72FB" stroke="#000" stroke-width="0.8"/>
<rect x="369.45" y="466.87" width="8.98" height="1.94" fill="#FF61C3" stroke="#000" stroke-width="0.8"/>
<path d="M309.83 462.41H312.33M311.08 462.41V462.86M309.83 462.86H312.33" stroke="#000" stroke-width="0.9" fill="none"/>
<path d="M318.81 461.24H321.31M320.06 461.24V464.84M318.81 464.84H321.31" stroke="#000" stroke-width="0.9" fill="none"/>
<path d="M327.79 388.43H330.29M329.04 388.43V388.88M327.79 388.88H330.29" stroke="#000" stroke-width="0.9" fill="none"/>
<path d="M354.73 451.56H357.23M355.98 451.56V452.92M354.73 452.92H357.23" stroke="#000" stroke-width="0.9" fill="none"/>
<path d="M363.71 386.76H366.21M364.96 386.76V388.56M363.71 388.56H366.21" stroke="#000" stroke-width="0.9" fill="none"/>
<rect x="214.8" y="320.5" width="175.6" height="17.77" fill="#D9D9D9"/>
<text transform="translate(302.6 332.58) rotate(0.05)" text-anchor="middle" font-size="9.2" fill="#1A1A1A" color="#1A1A1A">SF</text>
<rect x="214.8" y="338.27" width="175.6" height="18.15" fill="#D9D9D9"/>
<text transform="translate(302.6 350.55) rotate(0.05)" text-anchor="middle" font-size="9.2" fill="#1A1A1A" color="#1A1A1A">5</text>
<path d="M214.41 320.5H390.9" stroke="#333" stroke-width="0.72" fill="none"/>
<path d="M214.41 338.27H390.9" stroke="#333" stroke-width="1.11" fill="none"/>
<path d="M214.41 356.42H390.9" stroke="#333" stroke-width="1.06" fill="none"/>
<path d="M214.41 474H390.9" stroke="#333" stroke-width="0.86" fill="none"/>
<path d="M214.8 320.14V474.43" stroke="#333" stroke-width="0.78" fill="none"/>
<path d="M390.5 320.14V474.43" stroke="#333" stroke-width="0.8" fill="none"/>
<line x1="30.2" x2="33" y1="149.45" y2="149.45" stroke="#333" stroke-width="1"/>
<text transform="translate(27.2 152.6) rotate(0.05)" text-anchor="end" font-size="8.8" fill="#4D4D4D" color="#4D4D4D">0.0</text>
<line x1="30.2" x2="33" y1="126.95" y2="126.95" stroke="#333" stroke-width="1"/>
<text transform="translate(27.2 130.1) rotate(0.05)" text-anchor="end" font-size="8.8" fill="#4D4D4D" color="#4D4D4D">0.5</text>
<line x1="30.2" x2="33" y1="104.45" y2="104.45" stroke="#333" stroke-width="1"/>
<text transform="translate(27.2 107.6) rotate(0.05)" text-anchor="end" font-size="8.8" fill="#4D4D4D" color="#4D4D4D">1.0</text>
<line x1="30.2" x2="33" y1="81.95" y2="81.95" stroke="#333" stroke-width="1"/>
<text transform="translate(27.2 85.1) rotate(0.05)" text-anchor="end" font-size="8.8" fill="#4D4D4D" color="#4D4D4D">1.5</text>
<line x1="30.2" x2="33" y1="59.45" y2="59.45" stroke="#333" stroke-width="1"/>
<text transform="translate(27.2 62.6) rotate(0.05)" text-anchor="end" font-size="8.8" fill="#4D4D4D" color="#4D4D4D">2.0</text>
<line x1="30.2" x2="33" y1="309.2" y2="309.2" stroke="#333" stroke-width="1"/>
<text transform="translate(27.2 312.35) rotate(0.05)" text-anchor="end" font-size="8.8" fill="#4D4D4D" color="#4D4D4D">0.0</text>
<line x1="30.2" x2="33" y1="286.7" y2="286.7" stroke="#333" stroke-width="1"/>
<text transform="translate(27.2 289.85) rotate(0.05)" text-anchor="end" font-size="8.8" fill="#4D4D4D" color="#4D4D4D">0.5</text>
<line x1="30.2" x2="33" y1="264.2" y2="264.2" stroke="#333" stroke-width="1"/>
<text transform="translate(27.2 267.35) rotate(0.05)" text-anchor="end" font-size="8.8" fill="#4D4D4D" color="#4D4D4D">1.0</text>
<line x1="30.2" x2="33" y1="241.7" y2="241.7" stroke="#333" stroke-width="1"/>
<text transform="translate(27.2 244.85) rotate(0.05)" text-anchor="end" font-size="8.8" fill="#4D4D4D" color="#4D4D4D">1.5</text>
<line x1="30.2" x2="33" y1="219.2" y2="219.2" stroke="#333" stroke-width="1"/>
<text transform="translate(27.2 222.35) rotate(0.05)" text-anchor="end" font-size="8.8" fill="#4D4D4D" color="#4D4D4D">2.0</text>
<line x1="30.2" x2="33" y1="468.8" y2="468.8" stroke="#333" stroke-width="1"/>
<text transform="translate(27.2 471.95) rotate(0.05)" text-anchor="end" font-size="8.8" fill="#4D4D4D" color="#4D4D4D">0.0</text>
<line x1="30.2" x2="33" y1="446.3" y2="446.3" stroke="#333" stroke-width="1"/>
<text transform="translate(27.2 449.45) rotate(0.05)" text-anchor="end" font-size="8.8" fill="#4D4D4D" color="#4D4D4D">0.5</text>
<line x1="30.2" x2="33" y1="423.8" y2="423.8" stroke="#333" stroke-width="1"/>
<text transform="translate(27.2 426.95) rotate(0.05)" text-anchor="end" font-size="8.8" fill="#4D4D4D" color="#4D4D4D">1.0</text>
<line x1="30.2" x2="33" y1="401.3" y2="401.3" stroke="#333" stroke-width="1"/>
<text transform="translate(27.2 404.45) rotate(0.05)" text-anchor="end" font-size="8.8" fill="#4D4D4D" color="#4D4D4D">1.5</text>
<line x1="30.2" x2="33" y1="378.8" y2="378.8" stroke="#333" stroke-width="1"/>
<text transform="translate(27.2 381.95) rotate(0.05)" text-anchor="end" font-size="8.8" fill="#4D4D4D" color="#4D4D4D">2.0</text>
<line x1="80.89" x2="80.89" y1="474" y2="476.8" stroke="#333" stroke-width="1"/>
<text transform="translate(80.89 485.9) rotate(0.05)" text-anchor="middle" font-size="8.8" fill="#4D4D4D" color="#4D4D4D">0</text>
<line x1="160.71" x2="160.71" y1="474" y2="476.8" stroke="#333" stroke-width="1"/>
<text transform="translate(160.71 485.9) rotate(0.05)" text-anchor="middle" font-size="8.8" fill="#4D4D4D" color="#4D4D4D">4</text>
<line x1="262.69" x2="262.69" y1="474" y2="476.8" stroke="#333" stroke-width="1"/>
<text transform="translate(262.69 485.9) rotate(0.05)" text-anchor="middle" font-size="8.8" fill="#4D4D4D" color="#4D4D4D">0</text>
<line x1="342.51" x2="342.51" y1="474" y2="476.8" stroke="#333" stroke-width="1"/>
<text transform="translate(342.51 485.9) rotate(0.05)" text-anchor="middle" font-size="8.8" fill="#4D4D4D" color="#4D4D4D">4</text>
<line x1="444.34" x2="444.34" y1="314.6" y2="317.4" stroke="#333" stroke-width="1"/>
<text transform="translate(444.34 326.3) rotate(0.05)" text-anchor="middle" font-size="8.8" fill="#4D4D4D" color="#4D4D4D">0</text>
<line x1="524.16" x2="524.16" y1="314.6" y2="317.4" stroke="#333" stroke-width="1"/>
<text transform="translate(524.16 326.3) rotate(0.05)" text-anchor="middle" font-size="8.8" fill="#4D4D4D" color="#4D4D4D">4</text>
<text transform="translate(302.6 499) rotate(0.05)" text-anchor="middle" font-size="11.2" fill="#000" color="#000">Time (h)</text>
<text transform="translate(9.8 255.8) rotate(-89.95)" text-anchor="middle" font-size="11.4" fill="#000" color="#000">Concentration (g/L)</text>
<text transform="translate(589.9 185.5) rotate(0.05)" font-size="11.2" fill="#000" color="#000">Compound</text>
<rect x="589.5" y="192.8" width="17.3" height="17.7" fill="#F8766D" stroke="#333" stroke-width="0.9"/>
<text transform="translate(612.7 204.85) rotate(0.05)" font-size="9.3" fill="#000" color="#000">D−Arabinose</text>
<rect x="589.5" y="210.5" width="17.3" height="17.7" fill="#D39200" stroke="#333" stroke-width="0.9"/>
<text transform="translate(612.7 222.55) rotate(0.05)" font-size="9.3" fill="#000" color="#000">D−Galactose</text>
<rect x="589.5" y="228.2" width="17.3" height="17.7" fill="#93AA00" stroke="#333" stroke-width="0.9"/>
<text transform="translate(612.7 240.25) rotate(0.05)" font-size="9.3" fill="#000" color="#000">D−Glucose</text>
<rect x="589.5" y="245.9" width="17.3" height="17.7" fill="#00BA38" stroke="#333" stroke-width="0.9"/>
<text transform="translate(612.7 257.95) rotate(0.05)" font-size="9.3" fill="#000" color="#000">D−Mannose</text>
<rect x="589.5" y="263.6" width="17.3" height="17.7" fill="#00C19F" stroke="#333" stroke-width="0.9"/>
<text transform="translate(612.7 275.65) rotate(0.05)" font-size="9.3" fill="#000" color="#000">L−Fucose</text>
<rect x="589.5" y="281.3" width="17.3" height="17.7" fill="#00B9E3" stroke="#333" stroke-width="0.9"/>
<text transform="translate(612.7 293.35) rotate(0.05)" font-size="9.3" fill="#000" color="#000">Protein</text>
<rect x="589.5" y="299" width="17.3" height="17.7" fill="#DB72FB" stroke="#333" stroke-width="0.9"/>
<text transform="translate(612.7 311.05) rotate(0.05)" font-size="9.3" fill="#000" color="#000">Total−carbs</text>
<rect x="589.5" y="316.7" width="17.3" height="17.7" fill="#FF61C3" stroke="#333" stroke-width="0.9"/>
<text transform="translate(612.7 328.75) rotate(0.05)" font-size="9.3" fill="#000" color="#000">Xylose</text>
</svg>
</body></html>
